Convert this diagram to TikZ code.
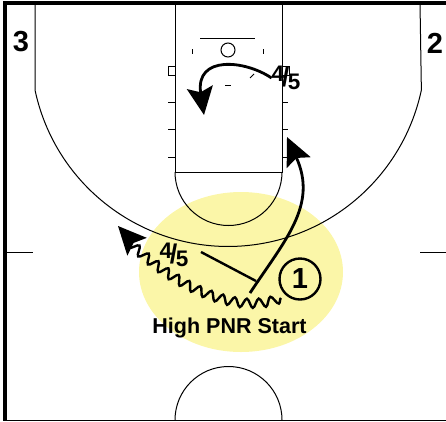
\documentclass[tikz,border=0pt]{standalone}
\usepackage{fontspec}
\setmainfont{Liberation Sans}
\usetikzlibrary{shapes.geometric, arrows.meta, decorations.pathmorphing}
\definecolor{keyyellow}{RGB}{251, 246, 168}
\newcommand{\fourfive}{\raisebox{3pt}{4}\kern-2.5pt\raisebox{-1.5pt}{\fontsize{27}{27}\selectfont/}\kern-1.5pt\raisebox{-5pt}{5}}

\begin{document}
\begin{tikzpicture}[
  x=1pt, y=-1pt,
  courtline/.style={draw=black, line width=1pt},
  edgeline/.style={draw=black, line width=3.5pt},
  spotbox/.style={courtline, minimum width=7pt, minimum height=9pt, inner sep=0pt},
  cornerlabel/.style={font=\bfseries\fontsize{29}{29}\selectfont, inner sep=0pt},
  playerlabel/.style={font=\bfseries\fontsize{22.5}{22.5}\selectfont, inner sep=0pt},
  ballcircle/.style={circle, draw=black, line width=2.4pt, minimum size=41pt, inner sep=0pt, font=\bfseries\fontsize{29}{29}\selectfont},
  cutline/.style={draw=black, line width=2.8pt, -{Stealth[length=28pt, width=26pt, inset=5pt]}},
  screenline/.style={draw=black, line width=2.4pt},
  dribbleline/.style={draw=black, line width=2.4pt, decorate, decoration={snake, segment length=12.5pt, amplitude=4.5pt, post length=14pt}, -{Stealth[length=28pt, width=26pt, inset=5pt]}}
]
  \useasboundingbox (0,0) rectangle (446,421);
  \node[ellipse, fill=keyyellow, minimum width=204pt, minimum height=160pt, inner sep=0pt] (hotspot) at (241,272) {};

  % court
  \draw[edgeline] (446,3) -- (5,3) -- (5,421);
  \draw[courtline] (5,420) -- (446,420);
  \draw[courtline] (35,3) -- (35,90) arc[start angle=168, end angle=12, radius=197.5] -- (420,3);
  \draw[courtline] (175,3) -- (175,172) -- (282,172) -- (282,3);
  \draw[courtline] (175,172) arc[start angle=180, end angle=0, radius=53.5];
  \draw[courtline] (175,420) arc[start angle=180, end angle=360, radius=53.5];
  \draw[courtline] (5,252) -- (33,252);
  \draw[courtline] (420,252) -- (446,252);
  \draw[courtline] (200,38) -- (255,38);
  \node[circle, courtline, minimum size=14pt, inner sep=0pt] (rim) at (228,50) {};
  \draw[courtline] (192,49) -- (192,54);
  \draw[courtline] (263,49) -- (263,54);
  \draw[courtline] (250,78) -- (254,74);
  \draw[courtline] (225,85) -- (231,85);
  \node[spotbox] (spotleft) at (171.5,70.5) {};
  \node[spotbox] (spotright) at (285.5,70.5) {};
  \foreach \y in {102,129,157} {
    \draw[courtline] (168,\y) -- (175,\y);
    \draw[courtline] (282,\y) -- (288,\y);
  }

  % players
  \node[cornerlabel] (three) at (21,42) {3};
  \node[cornerlabel] (two) at (435,43) {2};
  \node[playerlabel] (fourtop) at (286,78) {\fourfive};
  \node[playerlabel] (fourlow) at (174,255) {\fourfive};
  \node[ballcircle] (ball) at (300,279) {1};
  \node[font=\bfseries\fontsize{21.5}{21.5}\selectfont, inner sep=0pt] (title) at (229.5,328) {High PNR Start};

  % actions
  \coordinate (cutend) at (204,115);
  \coordinate (rollstart) at (250,293);
  \coordinate (rollend) at (287,137);
  \coordinate (screenend) at (256,281);
  \coordinate (dribblestart) at (281,298);
  \coordinate (dribbleend) at (118,226);
  \draw[cutline] (fourtop.west) .. controls (245,60) and (195,55) .. (cutend);
  \draw[cutline] (rollstart) .. controls (285,240) and (318,205) .. (rollend);
  \draw[screenline] (201,252) -- (screenend);
  \draw[dribbleline] (dribblestart) .. controls (235,315) and (165,280) .. (dribbleend);
\end{tikzpicture}
\end{document}
